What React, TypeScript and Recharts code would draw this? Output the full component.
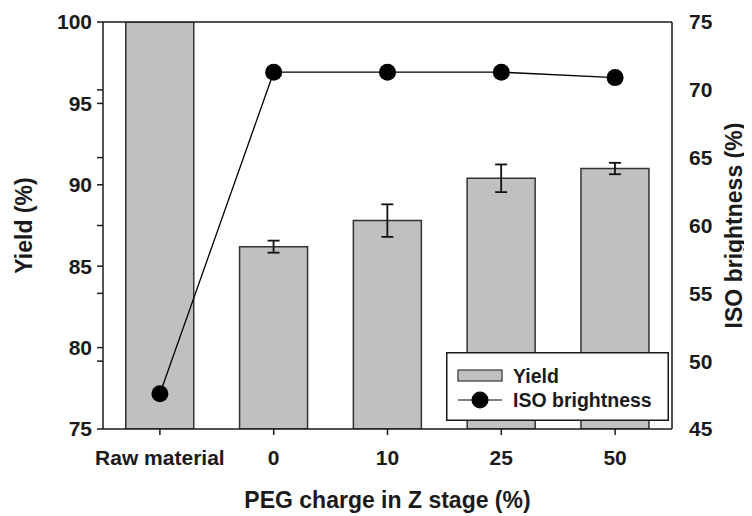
import React from 'react';
import {
  ComposedChart,
  Bar,
  Line,
  XAxis,
  YAxis,
  ErrorBar,
  ReferenceLine,
  Legend,
} from 'recharts';

const categories = ['Raw material', '0', '10', '25', '50'];
const yieldValues = [100, 86.2, 87.8, 90.4, 91.0];
const yieldErrors: (number | null)[] = [null, 0.37, 1.0, 0.85, 0.35];
const brightnessValues = [47.6, 71.3, 71.3, 71.3, 70.9];

const yieldTicks = [75, 79.17, 80, 83.33, 85, 87.5, 90, 91.67, 95, 95.83, 100];
const brightnessTicks = [45, 50, 55, 60, 65, 70, 75];

const data = categories.map((c, i) => ({
  cat: c,
  yield: yieldValues[i],
  yieldErr: yieldErrors[i],
  brightness: brightnessValues[i],
}));

const FONT = '"Liberation Sans", Arial, sans-serif';
const INK = '#1a1a1a';

const tickStyle = { fontFamily: FONT, fontWeight: 700, fontSize: 21, fill: INK };
const titleStyle = { fontFamily: FONT, fontWeight: 700, fontSize: 23, fill: INK };

const LegendBox = () => (
  <svg width={223} height={69} style={{ display: 'block' }}>
    <rect x={0.75} y={0.75} width={221.5} height={67.5} fill="#fff" stroke={INK} strokeWidth={1.5} />
    <rect x={12} y={18} width={44} height={11} fill="#c0c0c0" stroke="#333" strokeWidth={1.2} />
    <text x={67} y={31} style={{ fontFamily: FONT, fontWeight: 700, fontSize: 19.5 }} fill={INK}>
      Yield
    </text>
    <line x1={12} y1={48} x2={56} y2={48} stroke="#000" strokeWidth={1.2} />
    <circle cx={34} cy={48} r={8.5} fill="#000" />
    <text x={67} y={55} style={{ fontFamily: FONT, fontWeight: 700, fontSize: 19.5 }} fill={INK}>
      ISO brightness
    </text>
  </svg>
);

export default function App() {
  return (
    <div style={{ width: 744, height: 508 }}>
      <ComposedChart
        width={744}
        height={508}
        data={data}
        margin={{ top: 14, right: 0, bottom: 0, left: 0 }}
        barCategoryGap="20%"
      >
        <XAxis
          dataKey="cat"
          interval={0}
          height={87}
          tick={tickStyle}
          tickSize={6}
          tickMargin={15}
          axisLine={{ stroke: INK, strokeWidth: 1.5 }}
          tickLine={{ stroke: INK, strokeWidth: 1.5 }}
          label={{ value: 'PEG charge in Z stage (%)', position: 'center', dy: 27, style: titleStyle }}
        />
        <YAxis
          yAxisId="left"
          orientation="left"
          width={95}
          domain={[75, 100]}
          ticks={yieldTicks}
          allowDataOverflow
          interval={0}
          tick={tickStyle}
          tickSize={6}
          tickMargin={5}
          tickFormatter={(v: number) => (Math.abs(v % 5) < 0.001 ? String(v) : '')}
          axisLine={{ stroke: INK, strokeWidth: 1.5 }}
          tickLine={{ stroke: INK, strokeWidth: 1.5 }}
          label={{ value: 'Yield (%)', angle: -90, position: 'center', dx: -32, style: titleStyle }}
        />
        <YAxis
          yAxisId="right"
          orientation="right"
          width={80}
          domain={[45, 75]}
          ticks={brightnessTicks}
          allowDataOverflow
          interval={0}
          tick={{ ...tickStyle, textAnchor: 'start' }}
          tickSize={0}
          tickMargin={17}
          tickLine={false}
          axisLine={{ stroke: INK, strokeWidth: 1.5 }}
          label={{ value: 'ISO brightness (%)', angle: -90, position: 'center', dx: 22, style: titleStyle }}
        />
        <ReferenceLine yAxisId="left" y={100} stroke={INK} strokeWidth={1.5} ifOverflow="visible" />
        <Bar
          yAxisId="left"
          dataKey="yield"
          fill="#c0c0c0"
          stroke="#333"
          strokeWidth={1.5}
          isAnimationActive={false}
        >
          <ErrorBar dataKey="yieldErr" width={6} stroke="#111" strokeWidth={1.8} direction="y" />
        </Bar>
        <Line
          yAxisId="right"
          dataKey="brightness"
          stroke="#000"
          strokeWidth={1.3}
          dot={{ r: 8.5, fill: '#000', stroke: '#000', strokeWidth: 0 }}
          activeDot={false}
          isAnimationActive={false}
        />
        <Legend
          layout="vertical"
          align="center"
          verticalAlign="middle"
          content={() => <LegendBox />}
          wrapperStyle={{ left: 438, top: 344, width: 223, height: 69 }}
        />
      </ComposedChart>
    </div>
  );
}
